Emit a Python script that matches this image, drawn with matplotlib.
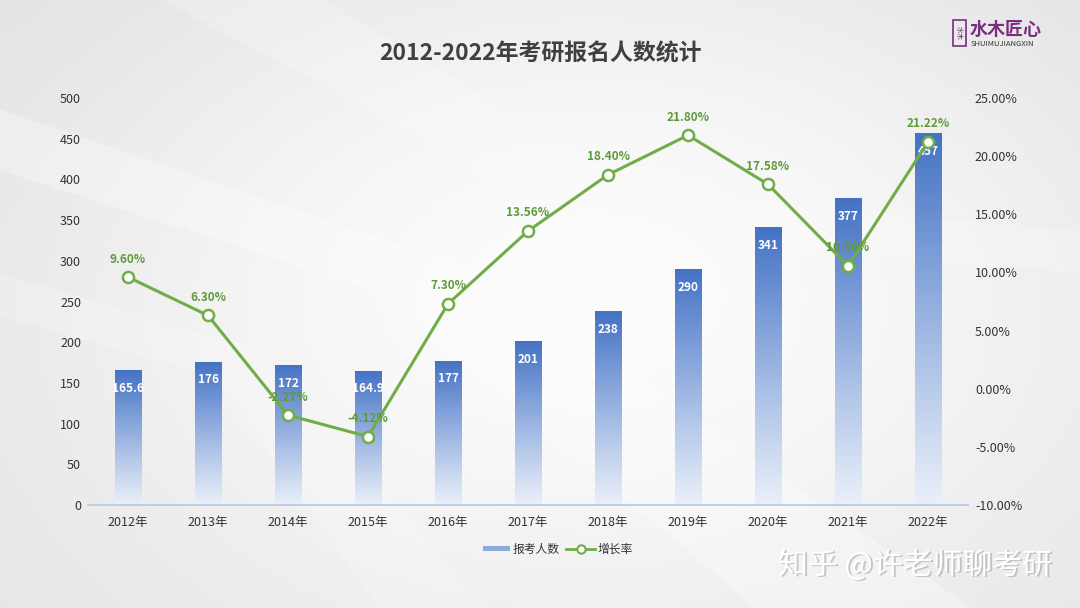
import numpy as np
import matplotlib
matplotlib.use('Agg')
from matplotlib import pyplot as plt
from matplotlib.colors import LinearSegmentedColormap
from matplotlib.patches import Polygon, Rectangle

plt.rcParams['font.family'] = ['Noto Sans CJK SC', 'DejaVu Sans']

years = ['2012年', '2013年', '2014年', '2015年', '2016年', '2017年',
         '2018年', '2019年', '2020年', '2021年', '2022年']
applicants = [165.6, 176, 172, 164.9, 177, 201, 238, 290, 341, 377, 457]
growth = [9.60, 6.30, -2.27, -4.12, 7.30, 13.56, 18.40, 21.80, 17.58, 10.56, 21.22]
bar_labels = ['165.6', '176', '172', '164.9', '177', '201', '238', '290', '341', '377', '457']

fig = plt.figure(figsize=(10.8, 6.08), dpi=100)

# background: soft grey gradient with a few light swooshes
bg = fig.add_axes([0, 0, 1, 1])
bg.set_xlim(0, 1)
bg.set_ylim(0, 1)
bg.axis('off')
yy, xx = np.mgrid[0:1:200j, 0:1:200j]
shade = 0.87 + 0.11 * np.exp(-((xx - 0.55) ** 2 / 0.3 + (yy - 0.55) ** 2 / 0.4))
shade = np.clip(shade + 0.02 * (1 - yy), 0, 1)
bg.imshow(np.dstack([shade, shade, shade]), extent=[0, 1, 0, 1], aspect='auto', origin='lower', zorder=0)
for pts, a in [([(0, 0.82), (0.45, 0.55), (0.9, 0.0), (0.7, 0.0), (0.35, 0.52), (0, 0.72)], 0.3),
               ([(0.15, 1.0), (0.55, 0.62), (1.0, 0.55), (1.0, 0.62), (0.6, 0.68), (0.3, 1.0)], 0.2),
               ([(0.0, 0.55), (0.25, 0.42), (0.45, 0.0), (0.35, 0.0), (0.2, 0.38), (0.0, 0.48)], 0.18)]:
    bg.add_patch(Polygon(pts, closed=True, color='white', alpha=a, lw=0, zorder=1))

ax = fig.add_axes([0.0815, 0.1694, 0.8148, 0.6694])
ax.patch.set_alpha(0)
x = np.arange(len(years))
bw = 0.33
bars = ax.bar(x, applicants, width=bw, color='none', zorder=2)

cmap = LinearSegmentedColormap.from_list('bar', ['#eaf0f9', '#b6c9ea', '#7d9ed8', '#4472c4'])
grad = np.linspace(0, 1, 256).reshape(-1, 1)
for b, v in zip(bars, applicants):
    im = ax.imshow(grad, cmap=cmap, origin='lower', aspect='auto',
                   extent=[b.get_x(), b.get_x() + bw, 0, v], zorder=2)
    im.set_clip_path(b)

for xi, v, lab in zip(x, applicants, bar_labels):
    ax.annotate(lab, (xi, v), xytext=(0, -13), textcoords='offset points',
                ha='center', va='center', color='white', fontsize=8.5, fontweight='bold', zorder=3)

ax.set_xlim(-0.5, len(years) - 0.5)
ax.set_ylim(0, 500)
ax.set_yticks(range(0, 501, 50))
ax.set_xticks(x)
ax.set_xticklabels(years)
for s in ['top', 'right', 'left']:
    ax.spines[s].set_visible(False)
ax.spines['bottom'].set_color('#b4c7e7')
ax.spines['bottom'].set_linewidth(1.2)
ax.tick_params(axis='both', length=0, labelsize=9, colors='#333333')
ax.tick_params(axis='x', pad=8)
ax.tick_params(axis='y', pad=5)

ax2 = ax.twinx()
ax2.set_ylim(-10, 25)
ax2.set_yticks(range(-10, 26, 5))
ax2.set_yticklabels(['%.2f%%' % t for t in range(-10, 26, 5)])
for s in ax2.spines.values():
    s.set_visible(False)
ax2.tick_params(axis='y', length=0, labelsize=9, colors='#333333', pad=5)
ax2.plot(x, growth, color='#70ad47', lw=2.2, marker='o', markersize=8,
         markerfacecolor='white', markeredgecolor='#70ad47', markeredgewidth=1.8, zorder=4)
for xi, g in zip(x, growth):
    ax2.annotate('%.2f%%' % g, (xi, g), xytext=(0, 13), textcoords='offset points',
                 ha='center', va='center', color='#5e9a3a', fontsize=8.5, fontweight='bold', zorder=5)

# legend
fig.patches.append(Rectangle((0.447, 0.0935), 0.025, 0.009, transform=fig.transFigure,
                             color='#8eaadb', lw=0))
fig.text(0.4745, 0.097, '报考人数', fontsize=8.5, color='#333333', va='center')
fig.lines.append(plt.Line2D([0.524, 0.551], [0.097, 0.097], transform=fig.transFigure,
                            color='#70ad47', lw=2))
fig.lines.append(plt.Line2D([0.5375], [0.097], transform=fig.transFigure, marker='o',
                            markersize=6, markerfacecolor='white', markeredgecolor='#70ad47',
                            markeredgewidth=1.5))
fig.text(0.5535, 0.097, '增长率', fontsize=8.5, color='#333333', va='center')

fig.text(0.5, 0.912, '2012-2022年考研报名人数统计', ha='center', va='center',
         fontsize=16.5, fontweight='bold', color='#404040')

# logo
fig.patches.append(Rectangle((0.882, 0.925), 0.012, 0.042, transform=fig.transFigure,
                             fill=False, edgecolor='#7b2d80', lw=1.2))
fig.text(0.888, 0.946, '水木', fontsize=5, color='#7b2d80', ha='center', va='center', rotation=-90)
fig.text(0.898, 0.952, '水木匠心', fontsize=13, fontweight='bold', color='#7b2d80', va='center')
fig.text(0.899, 0.928, 'SHUIMUJIANGXIN', fontsize=5.5, color='#333333', va='center')

# watermark
fig.text(0.9755, 0.068, '知乎 @许老师聊考研', ha='right', va='center', fontsize=21.5,
         color='#999999', alpha=0.5)
fig.text(0.9745, 0.070, '知乎 @许老师聊考研', ha='right', va='center', fontsize=21.5,
         color='white')

fig.savefig('out.png', dpi=100)
